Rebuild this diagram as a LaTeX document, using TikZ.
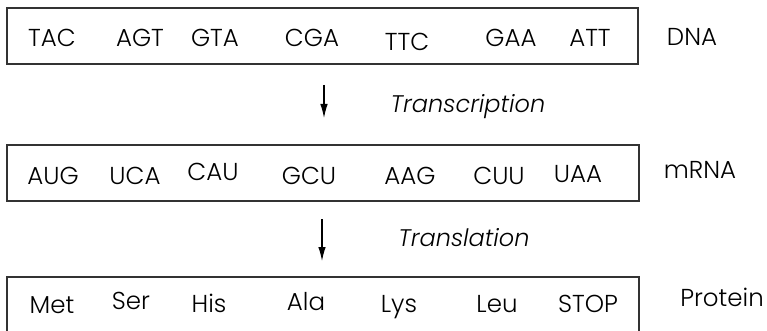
\documentclass[tikz,border=0pt]{standalone}
\usepackage{fontspec}
\setmainfont{Poppins}[UprightFont=*-Light,ItalicFont=*-LightItalic]
\usetikzlibrary{arrows.meta}
\begin{document}
\begin{tikzpicture}[x=1pt,y=-1pt,
  strand/.style={draw=black!80,line width=1.1pt},
  codon/.style={anchor=base,inner sep=0pt,font=\fontsize{24.5}{28}\selectfont},
  label/.style={anchor=base,inner sep=0pt,font=\fontsize{24.5}{28}\selectfont},
  process/.style={anchor=base,inner sep=0pt,font=\fontsize{24}{28}\selectfont\itshape},
  flow/.style={draw=black,line width=1.1pt,-{Latex[length=14pt,width=7.5pt]}}]
\useasboundingbox (0,0) rectangle (767,331);

% DNA strand
\draw[strand] (7,8) rectangle (638,64);
\node[codon] (d1) at (52,47) {TAC};
\node[codon] (d2) at (140,47) {AGT};
\node[codon] (d3) at (215,47) {GTA};
\node[codon] (d4) at (312,47) {CGA};
\node[codon] (d5) at (407,51) {TTC};
\node[codon] (d6) at (511,47) {GAA};
\node[codon] (d7) at (590,47) {ATT};
\node[label] (dna) at (692,46) {DNA};

% transcription step
\coordinate (t1) at (324,85);
\coordinate (t2) at (324,118);
\draw[flow] (t1) -- (t2);
\node[process] (trs) at (468,113) {Transcription};

% mRNA strand
\draw[strand] (7,145) rectangle (639,201);
\node[codon] (m1) at (53,184) {AUG};
\node[codon] (m2) at (135,184) {UCA};
\node[codon] (m3) at (213,180) {CAU};
\node[codon] (m4) at (309,184) {GCU};
\node[codon] (m5) at (410,184) {AAG};
\node[codon] (m6) at (499,184) {CUU};
\node[codon] (m7) at (578,182) {UAA};
\node[label] (mrna) at (700,178) {mRNA};

% translation step
\coordinate (l1) at (322,219);
\coordinate (l2) at (322,261);
\draw[flow] (l1) -- (l2);
\node[process] (trl) at (464,246) {Translation};

% protein chain (open at the bottom)
\draw[strand] (7,332) -- (7,277) -- (639,277) -- (639,332);
\node[codon] (p1) at (52,313) {Met};
\node[codon] (p2) at (131,309) {Ser};
\node[codon] (p3) at (209,312) {His};
\node[codon] (p4) at (306,310) {Ala};
\node[codon] (p5) at (399,312) {Lys};
\node[codon] (p6) at (497,312) {Leu};
\node[codon] (p7) at (588,312) {STOP};
\node[label] (prot) at (722,306) {Protein};
\end{tikzpicture}
\end{document}
